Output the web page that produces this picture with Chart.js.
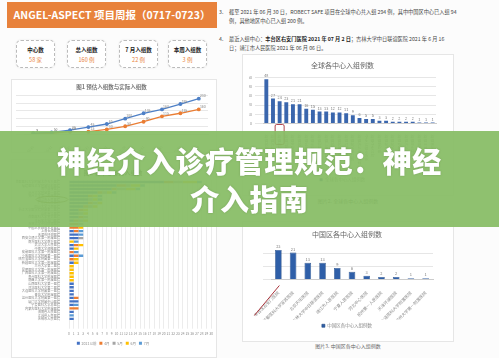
<!DOCTYPE html>
<html>
<head>
<meta charset="utf-8">
<script src="https://cdn.jsdelivr.net/npm/chart.js@4.4.1/dist/chart.umd.min.js"></script>
<style>
html, body { margin: 0; padding: 0; width: 499px; height: 358px; overflow: hidden; background: #fcfcfc;
  font-family: "Noto Sans CJK SC", "Noto Sans", sans-serif; }
.abs { position: absolute; }
.header { left: 7px; top: 2px; width: 210px; height: 26px; background: #e8823c; color: #fff; font-weight: bold;
  font-size: 10.5px; line-height: 26px; text-align: center; }
.stat { top: 40px; width: 37px; height: 26px; border: 1px dashed #bbb; border-radius: 5px; text-align: center;
  box-shadow: 0 0 2px #e4e4e4; background: #fff; }
.stat .k { font-size: 5.5px; font-weight: bold; color: #222; margin-top: 6px; line-height: 7px; }
.stat .v { font-size: 5.5px; color: #e8823c; margin-top: 3px; line-height: 7px; }
.para { left: 219px; width: 270px; font-size: 5.2px; color: #444; line-height: 8.5px; }
.para .n { position: absolute; left: 0; }
.para .t { margin-left: 10px; }
.box { border: 1px solid #e6e6e6; background: #fff; }
.cap { font-size: 5px; color: #666; text-align: center; }
.banner { left: 0; top: 131px; width: 499px; height: 96px; background: rgba(134, 188, 100, 0.93); }
.banner div { color: #fff; font-weight: 900; font-size: 29px; text-align: center; line-height: 38px; letter-spacing: 0.6px;
  text-shadow: 0 0 2px rgba(60, 90, 40, 0.35); }
</style>
</head>
<body>

<div class="abs header">ANGEL-ASPECT 项目周报（0717-0723）</div>

<div class="abs stat" style="left:16px"><div class="k">中心数</div><div class="v">58 家</div></div>
<div class="abs stat" style="left:67px"><div class="k">总入组数</div><div class="v">160 例</div></div>
<div class="abs stat" style="left:119px"><div class="k">7 月入组数</div><div class="v">22 例</div></div>
<div class="abs stat" style="left:168px"><div class="k">本周入组数</div><div class="v">3 例</div></div>

<div class="abs para" style="top:8px"><span class="n">3.</span><div class="t">截至 2021 年 06 月 30 日，ROBECT SAFE 项目在全球中心共入组 294 例，其中中国区中心已入组 94<br>例，其他地区中心已入组 200 例。</div></div>
<div class="abs para" style="top:35px"><span class="n">4.</span><div class="t">最近入组中心：<b style="color:#222">丰台区右安门医院 2021 年 07 月 2 日</b>；吉林大学中日联谊医院 2021 年 6 月 16<br>日；靖江市人民医院 2021 年 06 月 06 日。</div></div>

<div class="abs box" style="left:11px;top:79px;width:204px;height:72px"><canvas id="lineChart" width="204" height="72"></canvas></div>
<div class="abs box" style="left:11px;top:159px;width:204px;height:197px"><canvas id="centerChart" width="204" height="197"></canvas></div>
<div class="abs box" style="left:242px;top:54px;width:210px;height:140px"><canvas id="globalChart" width="210" height="140"></canvas></div>
<div class="abs cap" style="left:242px;top:197px;width:212px">图片2. 全球各中心入组例数</div>
<div class="abs box" style="left:242px;top:221px;width:210px;height:119px"><canvas id="chinaChart" width="210" height="119"></canvas></div>
<div class="abs cap" style="left:242px;top:342px;width:212px">图片3. 中国区各中心入组例数</div>

<div class="abs banner"><div style="margin-top:10px">神经介入诊疗管理规范：神经</div><div>介入指南</div></div>

<script>
// 图1 预估 vs 实际
const lineDates = ["2020/9/30", "2020/10/31", "2020/11/30", "2020/12/31", "2021/1/31",
  "2021/2/28", "2021/3/31", "2021/4/30", "2021/5/31", "2021/6/30"];
const predicted = [5, 10, 25, 45, 65, 100, 135, 160, 195, 230];
const actual = [3, 5, 15, 15, 30, 50, 80, 115, 135, 160];

// 图2 各中心入组数（堆叠）
const hospNames = ["首都医科大学附属北京天坛医院", "福建医科大学附属协和医院", "南京鼓楼医院", "苏州大学附属第一医院",
  "郑州大学第一附属医院", "靖江市人民医院", "广东省人民医院", "四川大学华西医院", "浙江大学医学院附属第二医院",
  "山东省立医院", "首都医科大学宣武医院", "丰台区右安门医院", "吉林大学中日联谊医院", "中国人民解放军总医院",
  "上海长海医院", "天津市环湖医院", "西安交通大学第一附属医院", "南方医科大学南方医院", "武汉大学人民医院",
  "中南大学湘雅医院", "安徽医科大学第一附属医院", "重庆医科大学附属第一医院", "哈尔滨医科大学附属第一医院",
  "新疆医科大学第一附属医院", "兰州大学第二医院", "昆明医科大学第一附属医院", "广西医科大学第一附属医院",
  "贵州医科大学附属医院", "南昌大学第一附属医院", "山西医科大学第一医院", "河北医科大学第二医院",
  "大连医科大学附属第一医院", "青岛大学附属医院", "温州医科大学附属第一医院", "厦门大学附属中山医院",
  "宁夏医科大学总医院", "内蒙古医科大学附属医院", "海南省人民医院", "江苏省人民医院", "无锡市人民医院"];
const before2021 = [20, 10, 9, 6, 4, 4, 4, 3, 2, 2, 2, 1, 0, 0, 1, 2, 2, 0, 1, 1, 0, 1, 0, 1, 0, 0, 0, 0, 0, 1, 1, 1, 1, 1, 2, 1, 0, 1, 0, 1];
const apr = [2, 2, 1, 1, 1, 0, 1, 1, 1, 0, 1, 1, 2, 2, 1, 0, 0, 0, 1, 0, 1, 1, 1, 0, 0, 0, 0, 0, 0, 0, 0, 0, 0, 1, 0, 0, 2, 0, 0, 0];
const may = [2, 1, 2, 1, 0, 1, 1, 1, 0, 1, 1, 1, 1, 0, 0, 0, 1, 0, 0, 0, 0, 0, 0, 0, 0, 0, 0, 0, 0, 0, 0, 0, 0, 0, 0, 0, 0, 0, 0, 0];
const jun = [3, 2, 2, 1, 1, 1, 1, 1, 1, 1, 0, 1, 0, 1, 0, 0, 0, 1, 1, 1, 0, 0, 1, 1, 1, 1, 1, 1, 1, 0, 0, 0, 0, 0, 0, 0, 0, 0, 0, 0];
const jul = [1, 1, 1, 1, 1, 1, 0, 0, 0, 0, 0, 0, 0, 0, 1, 1, 0, 1, 0, 0, 1, 1, 0, 0, 0, 0, 0, 0, 0, 0, 0, 0, 0, 0, 0, 1, 0, 0, 1, 0];
const stackLabels = ["2021以前", "4月", "5月", "6月", "7月"];

// 全球各中心
const globalNames = ["墨尔本皇家医院", "哥本哈根大学医院", "首都医科大学宣武医院", "北京天坛医院", "悉尼利物浦医院",
  "阿德莱德皇家医院", "约翰亨特医院", "奥克兰市医院", "吉林大学中日联谊医院", "丰台区右安门医院", "布里斯班皇家医院",
  "珀斯皇家医院", "新加坡国立医院", "靖江市人民医院", "黄金海岸大学医院", "莫纳什医疗中心", "河北中心医院",
  "惠灵顿医院", "宁夏人民医院", "杭州市第一人民医院", "台北荣民总医院", "首尔大学医院", "天津环湖医院",
  "坎特伯雷医院", "香港威尔斯亲王医院", "大连医科大学附属医院"];
const globalCounts = [48, 27, 24, 23, 21, 21, 16, 15, 13, 13, 12, 12, 11, 9, 6, 5, 5, 3, 3, 2, 2, 2, 2, 1, 1, 1];

// 中国区各中心
const chinaNames = ["丰台区右安门医院", "首都医科大学宣武医院", "北京天坛医院", "吉林大学中日联谊医院", "靖江市人民医院",
  "宁夏人民医院", "河北中心医院", "杭州第一人民医院", "天津环湖医院", "大连医科大学附属医院", "郑州大学第一附属医院"];
const chinaCounts = [23, 21, 13, 13, 9, 6, 3, 2, 2, 1, 1];

Chart.defaults.font.family = "'Noto Sans CJK SC', 'Noto Sans', sans-serif";
Chart.defaults.animation = false;
Chart.defaults.color = "#8a8a8a";

// small value labels on bars / points
const valueLabels = {
  id: "valueLabels",
  afterDatasetsDraw(chart, args, opts) {
    if (!opts.show) return;
    const ctx = chart.ctx;
    ctx.save();
    ctx.font = opts.size + "px 'Noto Sans CJK SC', sans-serif";
    ctx.fillStyle = opts.color || "#777";
    ctx.textAlign = "center";
    ctx.textBaseline = "bottom";
    chart.data.datasets.forEach((ds, di) => {
      chart.getDatasetMeta(di).data.forEach((el, i) => {
        ctx.fillText(ds.data[i], el.x + (opts.dx || 0), el.y - (opts.dy || 2));
      });
    });
    ctx.restore();
  }
};
Chart.register(valueLabels);

function fixWidth(w) { return scale => { scale.width = w; }; }
function fixHeight(h) { return scale => { scale.height = h; }; }

// line chart
new Chart(document.getElementById("lineChart"), {
  type: "line",
  data: {
    labels: lineDates,
    datasets: [
      { label: "预估入组数", data: predicted, borderColor: "#4f80c6", backgroundColor: "#4f80c6", borderWidth: 1.3, pointRadius: 1.3 },
      { label: "实际入组数", data: actual, borderColor: "#ea7d33", backgroundColor: "#ea7d33", borderWidth: 1.3, pointRadius: 1.3 }
    ]
  },
  options: {
    responsive: false,
    layout: { padding: { left: 3, right: 8, top: 0, bottom: 0 } },
    plugins: {
      legend: { display: false },
      tooltip: { enabled: false },
      title: { display: true, text: "图1 预估入组数与实际入组数", font: { size: 5.5 }, color: "#777", padding: { top: 4, bottom: 5 } },
      valueLabels: { show: true, size: 3.5, color: "#888", dx: 4, dy: 1 }
    },
    scales: {
      x: { offset: true, grid: { display: false }, border: { color: "#ddd" },
        ticks: { font: { size: 3.5 }, maxRotation: 45, minRotation: 45 }, afterFit: fixHeight(18) },
      y: { min: 0, max: 250, grid: { color: "#e8e8e8" }, border: { display: false },
        ticks: { stepSize: 50, font: { size: 3.5 } }, afterFit: fixWidth(9) }
    }
  }
});

// stacked horizontal bars
const stackColors = ["#4472c4", "#ed7d31", "#a5a5a5", "#ffc000", "#5b9bd5"];
const stackData = [before2021, apr, may, jun, jul];
new Chart(document.getElementById("centerChart"), {
  type: "bar",
  data: {
    labels: hospNames,
    datasets: stackLabels.map((name, i) => ({
      label: name, data: stackData[i], backgroundColor: stackColors[i], barPercentage: 0.75, categoryPercentage: 0.9
    }))
  },
  options: {
    responsive: false,
    indexAxis: "y",
    layout: { padding: { left: 2, right: 4, top: 0, bottom: 2 } },
    plugins: {
      legend: { position: "bottom", labels: { boxWidth: 3, boxHeight: 3, font: { size: 3.5 }, padding: 3 } },
      tooltip: { enabled: false },
      title: { display: true, text: "图2 各中心各月入组数", font: { size: 6, weight: "bold" }, color: "#555", padding: { top: 9, bottom: 4 } }
    },
    scales: {
      x: { stacked: true, min: 0, max: 30, grid: { color: "#ececec" }, border: { display: false },
        ticks: { stepSize: 1, font: { size: 3.2 }, autoSkip: false, maxRotation: 0 } },
      y: { stacked: true, grid: { display: false }, border: { display: false },
        ticks: { font: { size: 3.2 }, autoSkip: false, padding: 1 }, afterFit: fixWidth(55) }
    }
  },
  plugins: [{
    id: "circleMark",
    afterDraw(chart) {
      const ctx = chart.ctx, y = chart.scales.y.getPixelForValue(5);
      ctx.save();
      ctx.strokeStyle = "#7a6a2a";
      ctx.lineWidth = 0.8;
      ctx.beginPath();
      ctx.ellipse(chart.chartArea.left - 17, y, 16, 3.2, 0, 0, Math.PI * 2);
      ctx.stroke();
      ctx.restore();
    }
  }]
});

// global centers
new Chart(document.getElementById("globalChart"), {
  type: "bar",
  data: {
    labels: globalNames,
    datasets: [{ label: "全球各中心入组例数", data: globalCounts, backgroundColor: "#3a66ad", barPercentage: 0.65, categoryPercentage: 0.9 }]
  },
  options: {
    responsive: false,
    layout: { padding: { left: 6, right: 17, top: 0, bottom: 3 } },
    plugins: {
      legend: { position: "bottom", labels: { boxWidth: 3, boxHeight: 3, font: { size: 4.5 }, padding: 4 } },
      tooltip: { enabled: false },
      title: { display: true, text: "全球各中心入组例数", font: { size: 7, weight: "normal" }, color: "#666", padding: { top: 6, bottom: 8 } },
      valueLabels: { show: true, size: 3.8, color: "#777", dy: 1.5 }
    },
    scales: {
      x: { grid: { display: false }, border: { color: "#ccc" },
        ticks: { font: { size: 3.8 }, autoSkip: false, minRotation: 90, maxRotation: 90 }, afterFit: fixHeight(50) },
      y: { min: 0, max: 50, grid: { color: "#e6e6e6" }, border: { display: false },
        ticks: { stepSize: 5, font: { size: 3.5 } }, afterFit: fixWidth(14) }
    }
  },
  plugins: [{
    id: "boxMark",
    afterDraw(chart) {
      const ctx = chart.ctx, x = chart.scales.x.getPixelForValue(2), b = chart.chartArea.bottom;
      ctx.save();
      ctx.strokeStyle = "#a8323a";
      ctx.lineWidth = 0.9;
      ctx.beginPath();
      ctx.roundRect(x - 4.5, b + 1, 9, 20, 1.5);
      ctx.stroke();
      ctx.restore();
    }
  }]
});

// china centers
new Chart(document.getElementById("chinaChart"), {
  type: "bar",
  data: {
    labels: chinaNames,
    datasets: [{ label: "中国区各中心入组例数", data: chinaCounts, backgroundColor: "#2f5fa8", borderColor: "#1f467f", borderWidth: 0.6,
      barPercentage: 0.5, categoryPercentage: 0.9 }]
  },
  options: {
    responsive: false,
    layout: { padding: { left: 18, right: 20, top: 0, bottom: 3 } },
    plugins: {
      legend: { position: "bottom", labels: { boxWidth: 3, boxHeight: 3, font: { size: 4.5 }, padding: 4 } },
      tooltip: { enabled: false },
      title: { display: true, text: "中国区各中心入组例数", font: { size: 7, weight: "normal" }, color: "#666", padding: { top: 8, bottom: 9 } },
      valueLabels: { show: true, size: 4, color: "#777", dy: 1.5 }
    },
    scales: {
      x: { grid: { display: false }, border: { color: "#ccc" },
        ticks: { font: { size: 4.2 }, autoSkip: false, minRotation: 45, maxRotation: 45 }, afterFit: fixHeight(40) },
      y: { min: 0, max: 25, grid: { color: "#e6e6e6" }, border: { display: false },
        ticks: { stepSize: 5, font: { size: 3.8 } }, afterFit: fixWidth(10) }
    }
  },
  plugins: [{
    id: "lineMark",
    afterDraw(chart) {
      const ctx = chart.ctx, x = chart.scales.x.getPixelForValue(0), b = chart.chartArea.bottom;
      ctx.save();
      ctx.strokeStyle = "#a8323a";
      ctx.lineWidth = 1;
      ctx.beginPath();
      ctx.moveTo(x - 24, b + 36);
      ctx.lineTo(x + 1, b + 6);
      ctx.stroke();
      ctx.restore();
    }
  }]
});
</script>
</body>
</html>
